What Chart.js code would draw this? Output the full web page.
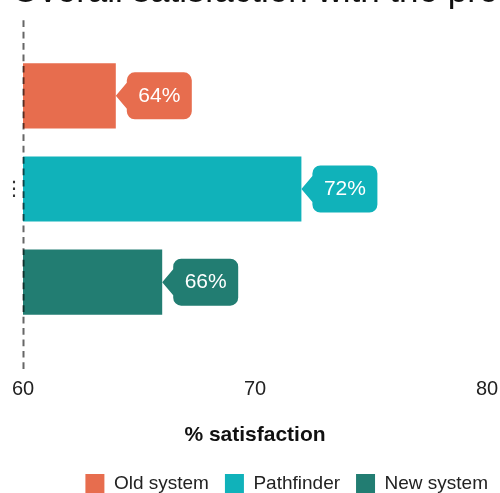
<!DOCTYPE html>
<html><head><meta charset="utf-8">
<script src="https://cdn.jsdelivr.net/npm/chart.js@4.4.1/dist/chart.umd.min.js"></script>
<style>
html,body{margin:0;padding:0;background:#fff;}
#frame{position:relative;width:500px;height:493px;overflow:hidden;background:#fff;}
#title{position:absolute;left:12px;top:-28px;margin:0;font:normal 35px/35px 'Liberation Sans',Arial,sans-serif;color:#111;white-space:nowrap;}
#holder{position:absolute;left:0;top:0;width:500px;height:503px;}
</style></head><body>
<div id="frame">
<div id="holder"><canvas id="c" width="500" height="503"></canvas></div>
<h1 id="title"></h1>
</div>
<script>
const titleText = 'Overall satisfaction with the process';
const categories = ['\u22EE'];
const seriesNames = ['Old system', 'Pathfinder', 'New system'];
const oldSystem = [64];
const pathfinder = [72];
const newSystem = [66];
const xTickValues = [60, 70, 80];
const axisTitle = '% satisfaction';
const colors = ['#E76D4E', '#10B2BA', '#227D72'];

document.getElementById('title').textContent = titleText;

const FONT = "'Liberation Sans', Arial, 'DejaVu Sans', sans-serif";
Chart.defaults.font.family = FONT;

const calloutPlugin = {
  id: 'callouts',
  afterDatasetsDraw(chart) {
    const ctx = chart.ctx;
    const area = chart.chartArea;
    // dashed reference line at the axis minimum
    const xs = chart.scales.x;
    const lx = Math.round(xs.getPixelForValue(xTickValues[0])) + 0.5;
    ctx.save();
    ctx.strokeStyle = 'rgba(0,0,0,0.6)';
    ctx.lineWidth = 2;
    ctx.setLineDash([6.7, 4.7]);
    ctx.beginPath();
    ctx.moveTo(lx, area.bottom + 2);
    ctx.lineTo(lx, area.top + 9);
    ctx.stroke();
    ctx.restore();

    chart.data.datasets.forEach((ds, i) => {
      const meta = chart.getDatasetMeta(i);
      meta.data.forEach((bar, j) => {
        const v = ds.data[j];
        const tipX = bar.x, cy = bar.y;
        const gap = 11, w = 65, h = 47, r = 8, notch = 13;
        const left = tipX + gap, top = cy - h / 2;
        ctx.save();
        ctx.fillStyle = ds.backgroundColor;
        ctx.beginPath();
        ctx.moveTo(left + r, top);
        ctx.lineTo(left + w - r, top);
        ctx.arcTo(left + w, top, left + w, top + r, r);
        ctx.lineTo(left + w, top + h - r);
        ctx.arcTo(left + w, top + h, left + w - r, top + h, r);
        ctx.lineTo(left + r, top + h);
        ctx.arcTo(left, top + h, left, top + h - r, r);
        ctx.lineTo(left, cy + notch);
        ctx.lineTo(tipX, cy);
        ctx.lineTo(left, cy - notch);
        ctx.lineTo(left, top + r);
        ctx.arcTo(left, top, left + r, top, r);
        ctx.closePath();
        ctx.fill();
        ctx.fillStyle = '#ffffff';
        ctx.font = '21px ' + FONT;
        ctx.textAlign = 'center';
        ctx.textBaseline = 'middle';
        ctx.fillText(v + '%', left + w / 2, cy);
        ctx.restore();
      });
    });
  }
};

const seriesValues = [oldSystem, pathfinder, newSystem];

new Chart(document.getElementById('c'), {
  type: 'bar',
  data: {
    labels: categories,
    datasets: seriesNames.map((name, i) => ({
      label: name,
      data: seriesValues[i],
      backgroundColor: colors[i],
      borderWidth: 0,
      categoryPercentage: 0.785,
      barPercentage: 0.70
    }))
  },
  options: {
    indexAxis: 'y',
    responsive: false,
    devicePixelRatio: 1,
    animation: false,
    layout: { padding: { left: 0, right: -4, top: 7.5, bottom: 0 } },
    scales: {
      x: {
        type: 'linear',
        min: xTickValues[0],
        max: xTickValues[xTickValues.length - 1],
        afterBuildTicks: s => { s.ticks = xTickValues.map(v => ({ value: v })); },
        afterFit: s => { s.paddingRight = 13; },
        grid: { display: false, drawTicks: false },
        border: { display: false },
        ticks: { font: { size: 20 }, color: '#222', padding: 10 },
        title: {
          display: true, text: axisTitle, color: '#111',
          font: { size: 21, weight: 'bold', lineHeight: 1.2 },
          padding: { top: 11.5, bottom: 10.3 }
        }
      },
      y: {
        type: 'category',
        afterFit: s => { s.width = 23; },
        grid: { display: false, drawTicks: false },
        border: { display: false },
        ticks: { font: { size: 20 }, color: '#333', padding: -1 }
      }
    },
    plugins: {
      title: { display: false },
      legend: {
        position: 'bottom', align: 'end',
        labels: { boxWidth: 19, boxHeight: 19, font: { size: 19 }, color: '#222', padding: 16 }
      },
      tooltip: { enabled: false }
    }
  },
  plugins: [calloutPlugin]
});
</script>
</body></html>
